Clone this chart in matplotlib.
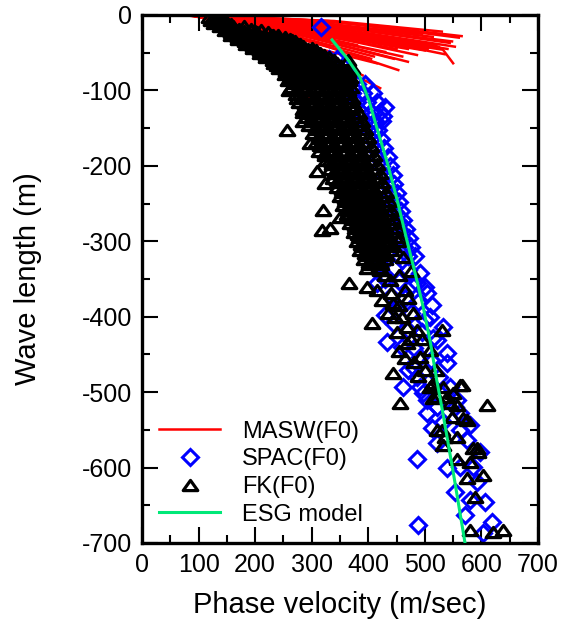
import matplotlib
matplotlib.use('Agg')
import matplotlib.pyplot as plt
from matplotlib.lines import Line2D
from matplotlib.path import Path
from matplotlib.ticker import MultipleLocator

plt.rcParams['font.family'] = ['Liberation Sans', 'DejaVu Sans']
plt.rcParams['axes.unicode_minus'] = False

# MASW(F0) dispersion curves, one list per curve (velocity m/sec, wave length m)
masw_v = [
    [78, 320, 553], [82, 300, 532, 550], [85, 290, 486], [88, 270, 430],
    [95, 280, 453], [100, 270, 421], [80, 300, 474], [80, 280, 438],
    [90, 330, 544], [85, 310, 514], [92, 300, 486], [105, 260, 415],
    [110, 220, 300], [115, 210, 285], [108, 230, 330], [100, 240, 360],
    [95, 260, 390], [120, 200, 262], [90, 320, 520], [100, 330, 540],
    [83, 260, 400], [87, 250, 380], [97, 280, 460], [102, 300, 500],
    [125, 280, 410], [130, 300, 450], [90, 350, 560], [86, 340, 530],
    [80, 310, 548], [84, 300, 525], [88, 290, 505], [92, 280, 470],
    [96, 270, 445], [82, 290, 495], [90, 300, 535], [98, 260, 405],
    [104, 250, 370], [79, 330, 565], [93, 310, 490], [100, 290, 470],
]
masw_l = [
    [0, -15, -42], [0, -20, -46, -64], [-1, -22, -53], [-1, -24, -49],
    [-2, -30, -73], [-2, -40, -97], [0, -9, -24], [0, -6, -16],
    [0, -14, -37], [0, -12, -29], [-1, -15, -37], [-3, -35, -64],
    [-3, -50, -113], [-4, -50, -108], [-3, -45, -100], [-2, -40, -90],
    [-1, -38, -80], [-5, -45, -90], [0, -18, -40], [-1, -20, -45],
    [0, -12, -30], [0, -18, -40], [-1, -25, -55], [-2, -22, -47],
    [-5, -30, -55], [-6, -25, -45], [0, -10, -30], [0, -8, -22],
    [0, -13, -35], [0, -16, -42], [-1, -19, -45], [-1, -20, -45],
    [-1, -25, -58], [0, -10, -25], [0, -16, -52], [-2, -28, -58],
    [-2, -38, -80], [0, -8, -28], [-1, -18, -42], [-2, -28, -62],
]

# SPAC(F0) points
spac_v = [316,
          330, 345, 340, 356, 350, 368, 362, 380, 395,
          372, 390, 408, 380, 398, 416, 430, 388, 405, 421, 426,
          395, 412, 424, 400, 418, 405, 422, 410, 428, 416, 434,
          422, 439, 428, 443, 432, 446, 436, 450, 440, 454,
          445, 458, 450, 462, 455, 466, 460, 472, 463, 476,
          455, 470, 482,
          420, 445, 470, 492, 430, 455, 478, 500, 440, 465, 488, 512,
          450, 475, 500, 445, 470, 495, 515, 460, 480, 510, 470, 525,
          430, 433, 461, 486, 504, 532, 539, 553, 509, 521, 415, 486,
          504, 479, 491, 539, 497, 504, 513, 521, 486, 539, 553, 580,
          606, 571, 619, 488, 603, 574, 585, 562, 532, 491, 544, 562,
          580, 562, 597, 592, 521, 557]
spac_l = [-16,
          -58, -58, -68, -68, -80, -80, -92, -92, -92,
          -104, -104, -104, -116, -116, -116, -122, -128, -128, -128, -134,
          -140, -140, -140, -152, -152, -164, -164, -176, -176, -188, -188,
          -200, -200, -212, -212, -224, -224, -236, -236, -248, -248,
          -260, -260, -272, -272, -284, -284, -296, -296, -308, -308,
          -320, -320, -320,
          -330, -335, -338, -342, -350, -352, -358, -360, -372, -375, -380, -385,
          -390, -395, -405, -410, -418, -420, -428, -440, -442, -458, -470, -480,
          -398, -434, -493, -480, -511, -414, -448, -520, -400, -431, -355, -355,
          -369, -467, -454, -462, -501, -528, -548, -568, -588, -601, -633, -643,
          -646, -663, -672, -676, -687, -564, -599, -599, -540, -493, -493, -528,
          -544, -550, -580, -619, -520, -511]

# FK(F0) points in the dense upper band: one wave length per row, velocities of that row
fk_row_l = [-2, -4, -6, -8, -10, -12, -15, -18, -20, -21, -23, -26, -27, -29, -32,
            -33, -35, -38, -39, -41, -44, -45, -47, -50, -51, -53, -56, -57, -60,
            -63, -64, -67, -70, -73, -74, -78, -81, -82, -86, -89, -90, -95, -98,
            -100, -105, -108, -110, -115, -118, -120, -125, -128, -130, -135, -138,
            -140, -146, -149, -151, -157, -160, -162, -168, -171, -174, -180, -183,
            -186, -192, -195, -198, -204, -207, -210, -216, -219, -222, -228, -231,
            -234, -240, -243, -246, -252, -255, -258, -264, -267, -270, -276, -279,
            -282, -288, -291, -294, -300, -303, -306, -312, -315, -318, -324, -327,
            -330, -336]
fk_row_v = [
    [118, 132], [126], [122, 140], [131, 148], [128, 150], [139, 158],
    [138, 160, 180], [150, 172, 192], [147, 170, 193, 210], [158, 181, 200],
    [158, 181, 204, 222], [158, 182, 205, 228, 240], [170, 193, 216, 232],
    [170, 193, 216, 239, 252], [170, 195, 218, 240, 262],
    [182, 206, 229, 251, 266], [182, 206, 229, 251, 270],
    [184, 208, 230, 253, 276], [196, 219, 241, 264, 280],
    [196, 219, 241, 264, 284], [196, 220, 243, 265, 288, 300],
    [208, 231, 254, 276, 294], [208, 231, 254, 276, 299, 308],
    [208, 232, 255, 278, 300, 315], [220, 243, 266, 289, 306],
    [220, 243, 266, 289, 311, 322], [220, 244, 267, 290, 312, 330],
    [232, 255, 278, 301, 320], [232, 255, 278, 301, 323, 340, 365],
    [234, 256, 278, 300, 322, 345], [245, 267, 289, 311, 333],
    [245, 267, 289, 311, 333, 352], [243, 265, 288, 310, 332, 354, 372],
    [254, 276, 299, 321, 343], [254, 276, 299, 321, 343, 365],
    [252, 275, 297, 318, 340, 362], [263, 286, 307, 329, 351],
    [262, 285, 307, 329, 351, 368], [258, 282, 305, 326, 348, 366],
    [270, 293, 315, 337, 357], [268, 292, 314, 336, 358],
    [263, 288, 310, 332, 354, 370], [275, 299, 321, 343, 362],
    [276, 299, 321, 343, 364], [272, 295, 317, 339, 360],
    [283, 306, 328, 350], [283, 305, 328, 350, 372],
    [278, 300, 322, 344, 366], [289, 311, 333, 355],
    [289, 311, 333, 355, 377], [285, 306, 328, 350, 372],
    [296, 317, 339, 361], [295, 318, 340, 362, 384],
    [290, 312, 334, 356, 378], [301, 323, 345, 367],
    [301, 323, 345, 367, 389], [296, 318, 340, 362, 384],
    [307, 329, 351, 373], [307, 329, 351, 373, 395],
    [302, 324, 346, 368, 390], [313, 335, 357, 379],
    [313, 335, 357, 379, 400], [307, 329, 351, 373, 395],
    [318, 340, 362, 384], [318, 340, 362, 384, 405],
    [312, 334, 356, 378, 400], [323, 345, 367, 389],
    [324, 345, 367, 389, 410], [326, 345, 364, 384, 405],
    [336, 355, 374, 394], [335, 354, 374, 394, 415],
    [332, 350, 370, 389, 410], [341, 360, 380, 400],
    [341, 360, 380, 400, 420], [338, 356, 375, 394, 415],
    [347, 366, 385, 405], [347, 366, 385, 405, 425],
    [344, 362, 381, 400, 420], [353, 372, 391, 410],
    [353, 372, 391, 411, 431], [350, 368, 387, 405, 426],
    [359, 378, 396, 416], [359, 378, 396, 416, 436],
    [356, 374, 392, 410, 431], [365, 383, 401, 421],
    [365, 383, 402, 420, 440], [362, 379, 397, 415, 436],
    [371, 388, 406, 426], [371, 388, 406, 425, 445],
    [368, 385, 402, 420, 440], [377, 394, 411, 430],
    [377, 394, 412, 430, 450], [374, 390, 407, 425, 445],
    [382, 399, 416, 435], [383, 400, 418, 436, 455],
    [380, 396, 412, 432, 452], [388, 404, 422, 442],
    [389, 406, 425, 444], [385, 402, 420, 440],
    [394, 411, 430], [396, 414, 432], [392, 410, 430],
    [401, 420], [402, 422], [398, 418],
]

# FK(F0) scattered points (outliers and lower part)
fk_lower_v = [239, 260, 274, 285, 285, 256, 297, 315, 310, 323, 332, 320,
              350, 318, 332, 366, 398, 407, 444, 456, 530, 566, 514, 444,
              447, 468, 486, 468, 491, 509, 479, 438, 421, 398, 461, 509,
              532, 550, 521, 544, 610, 521, 532, 557, 574, 603, 589, 585,
              580, 620, 638, 562, 513, 514, 539, 557, 548, 567, 574, 557,
              530, 536, 592, 594, 580,
              430, 455, 475, 415, 440, 465, 425, 455, 470, 435, 460, 450,
              475, 455, 480, 500, 465, 495, 520, 488]
fk_lower_l = [-66, -99, -110, -128, -140, -153, -170, -173, -207, -223, -192, -259,
              -268, -285, -282, -355, -360, -408, -475, -515, -418, -491, -488, -382,
              -400, -414, -418, -435, -454, -444, -395, -351, -338, -307, -321, -493,
              -493, -501, -506, -515, -517, -550, -570, -588, -614, -610, -639, -574,
              -683, -686, -683, -491, -491, -508, -506, -517, -533, -534, -537, -560,
              -550, -560, -574, -580, -593,
              -345, -345, -340, -365, -368, -365, -378, -385, -375, -395, -400, -420,
              -430, -445, -460, -470, -455, -430, -470, -478]

# ESG model curve
esg_v = [336, 362, 385, 401, 415, 434, 451, 468, 483, 497, 510, 521, 530, 551, 571]
esg_l = [-33, -57, -82, -113, -149, -197, -245, -298, -343, -387, -435, -484, -520, -610, -700]

red = '#ff0000'
blue = '#0000ff'
green = '#00e878'
tri = Path([(-1, -0.7), (1, -0.7), (0, 0.7), (0, 0)],
           [Path.MOVETO, Path.LINETO, Path.LINETO, Path.CLOSEPOLY])
tri_style = dict(ls='none', marker=tri, ms=10.5, mfc='none', mec='black', mew=2.3)
dia_style = dict(ls='none', marker='D', ms=7.8, mfc='none', mec=blue, mew=2.2)

fk_v = [v for row in fk_row_v for v in row] + fk_lower_v
fk_l = [l for l, row in zip(fk_row_l, fk_row_v) for _ in row] + fk_lower_l

fig = plt.figure(figsize=(5.7, 6.2), dpi=100)
ax = fig.add_axes([142 / 570, 1 - 543 / 620, 396 / 570, 528 / 620])

for v, l in zip(masw_v, masw_l):
    ax.plot(v, l, color=red, lw=1.8, zorder=1)

ax.plot(spac_v, spac_l, zorder=2, **dia_style)
ax.plot(fk_v, fk_l, zorder=3, **tri_style)
ax.plot(esg_v, esg_l, color=green, lw=2.2, zorder=4)

ax.set_xlim(0, 700)
ax.set_ylim(-700, 0)
ax.xaxis.set_major_locator(MultipleLocator(100))
ax.xaxis.set_minor_locator(MultipleLocator(50))
ax.yaxis.set_major_locator(MultipleLocator(100))
ax.yaxis.set_minor_locator(MultipleLocator(50))
ax.tick_params(which='both', direction='in', top=True, right=True, width=1.5, labelsize=18, pad=7)
ax.tick_params(which='major', length=11.5)
ax.tick_params(which='minor', length=6)
for s in ax.spines.values():
    s.set_linewidth(2.4)

ax.set_xlabel('Phase velocity (m/sec)', fontsize=21)
ax.set_ylabel('Wave length (m)', fontsize=21)
ax.xaxis.set_label_coords(0.5, -0.09)
ax.yaxis.set_label_coords(-0.2525, 0.5)

handles = [
    Line2D([], [], color=red, lw=1.8),
    Line2D([], [], **dia_style),
    Line2D([], [], **tri_style),
    Line2D([], [], color=green, lw=2.2),
]
ax.legend(handles, ['MASW(F0)', 'SPAC(F0)', 'FK(F0)', 'ESG model'], loc='upper left',
          bbox_to_anchor=(0.043, 0.232), frameon=False, fontsize=17, handlelength=2.6,
          handletextpad=0.9, labelspacing=0.24, borderpad=0, borderaxespad=0, numpoints=1)

fig.savefig('out.png', dpi=100)
